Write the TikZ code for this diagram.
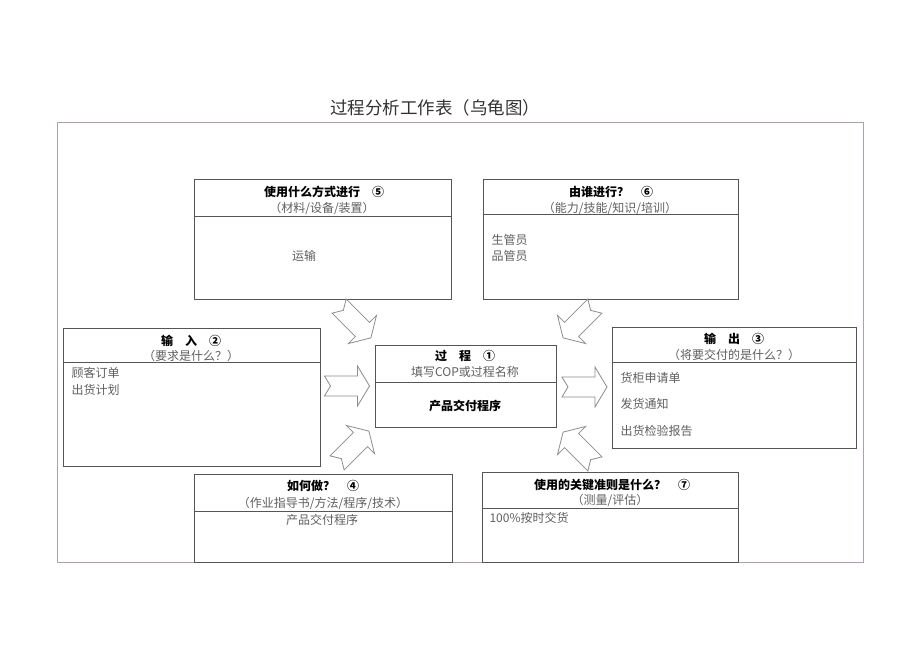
\documentclass[tikz,border=0pt]{standalone}
\usepackage{fontspec}
\setmainfont{Noto Sans CJK SC}
\usetikzlibrary{positioning}
\definecolor{framegray}{RGB}{175,160,175}
\definecolor{linegray}{RGB}{85,85,85}
\definecolor{textgray}{RGB}{95,95,95}
\definecolor{arrowgray}{RGB}{140,140,140}
\newcommand{\fatarrow}[2]{%
  \draw [arrowgray,line width=0.8pt,shift={#1},rotate=#2]
    (-22.5,-10) -- (10.5,-10) -- (10.5,-20) -- (22.5,0) -- (10.5,20)
    -- (10.5,10) -- (-22.5,10) -- (-16.5,0) -- cycle;}
\begin{document}
\begin{tikzpicture}[x=1pt,y=-1pt,
   box/.style={draw=linegray,line width=0.9pt,inner sep=0pt},
   head/.style={font=\fontsize{12}{14}\selectfont\bfseries},
   sub/.style={font=\fontsize{12}{14}\selectfont,text=textgray},
   item/.style={font=\fontsize{12}{14}\selectfont,text=textgray,anchor=west}]
   \useasboundingbox (0,0) rectangle (920,651);
   \fill [white] (0,0) rectangle (920,651);
   \node [font=\fontsize{17.5}{20}\selectfont,text=black!80] (title) at (435,108) {过程分析工作表（乌龟图）};
   \draw [framegray,line width=0.8pt] (57,122) rectangle (863,562);
   % boxes
   \node [box,minimum width=257pt,minimum height=120pt] (b5) at (322.5,239) {};
   \node [box,minimum width=255pt,minimum height=120pt] (b6) at (610.5,239) {};
   \node [box,minimum width=257pt,minimum height=138pt] (b2) at (191.5,397) {};
   \node [box,minimum width=181pt,minimum height=82pt] (b1) at (465.5,386) {};
   \node [box,minimum width=244pt,minimum height=121pt] (b3) at (734,387.5) {};
   \node [box,minimum width=258pt,minimum height=88pt] (b4) at (323,518) {};
   \node [box,minimum width=256pt,minimum height=90pt] (b7) at (610,517) {};
   \draw [linegray,line width=0.9pt] (b5.west |- 0,216) -- (b5.east |- 0,216);
   \draw [linegray,line width=0.9pt] (b6.west |- 0,214) -- (b6.east |- 0,214);
   \draw [linegray,line width=0.9pt] (b2.west |- 0,362) -- (b2.east |- 0,362);
   \draw [linegray,line width=0.9pt] (b1.west |- 0,382) -- (b1.east |- 0,382);
   \draw [linegray,line width=0.9pt] (b3.west |- 0,362) -- (b3.east |- 0,362);
   \draw [linegray,line width=0.9pt] (b4.west |- 0,511) -- (b4.east |- 0,511);
   \draw [linegray,line width=0.9pt] (b7.west |- 0,508) -- (b7.east |- 0,508);
   % 5
   \node [head] (h5) at (324,192) {使用什么方式进行　⑤};
   \node [sub] (s5) at (322,208) {（材料/设备/装置）};
   \node [sub] (c5) at (304,256) {运输};
   % 6
   \node [head] (h6) at (611,192) {由谁进行？　⑥};
   \node [sub] (s6) at (610,208) {（能力/技能/知识/培训）};
   \node [item] (c6a) at (488,240) {生管员};
   \node [item] (c6b) at (488,256) {品管员};
   % 2
   \node [head] (h2) at (191,341) {输　入　②};
   \node [sub] (s2) at (191,356) {（要求是什么？）};
   \node [item] (c2a) at (68,373) {顾客订单};
   \node [item] (c2b) at (68,390) {出货计划};
   % 1
   \node [head] (h1) at (465,356) {过　程　①};
   \node [sub] (s1) at (465,372) {填写COP或过程名称};
   \node [head] (c1) at (465,406) {产品交付程序};
   % 3
   \node [head] (h3) at (734,339) {输　出　③};
   \node [sub] (s3) at (734,355) {（将要交付的是什么？）};
   \node [item] (c3a) at (617,378) {货柜申请单};
   \node [item] (c3b) at (617,404) {发货通知};
   \node [item] (c3c) at (617,431) {出货检验报告};
   % 4
   \node [head] (h4) at (323,486) {如何做？　④};
   \node [sub] (s4) at (323,503) {（作业指导书/方法/程序/技术）};
   \node [sub] (c4) at (322,520) {产品交付程序};
   % 7
   \node [head] (h7) at (612,485) {使用的关键准则是什么？　⑦};
   \node [sub] (s7) at (610,500) {（测量/评估）};
   \node [item] (c7) at (486,518) {100\%按时交货};
   % arrows
   \fatarrow{(347,386)}{0}
   \fatarrow{(584.5,387)}{0}
   \fatarrow{(355,322)}{-45}
   \fatarrow{(579,322)}{-135}
   \fatarrow{(353,447)}{45}
   \fatarrow{(579,448)}{135}
\end{tikzpicture}
\end{document}
